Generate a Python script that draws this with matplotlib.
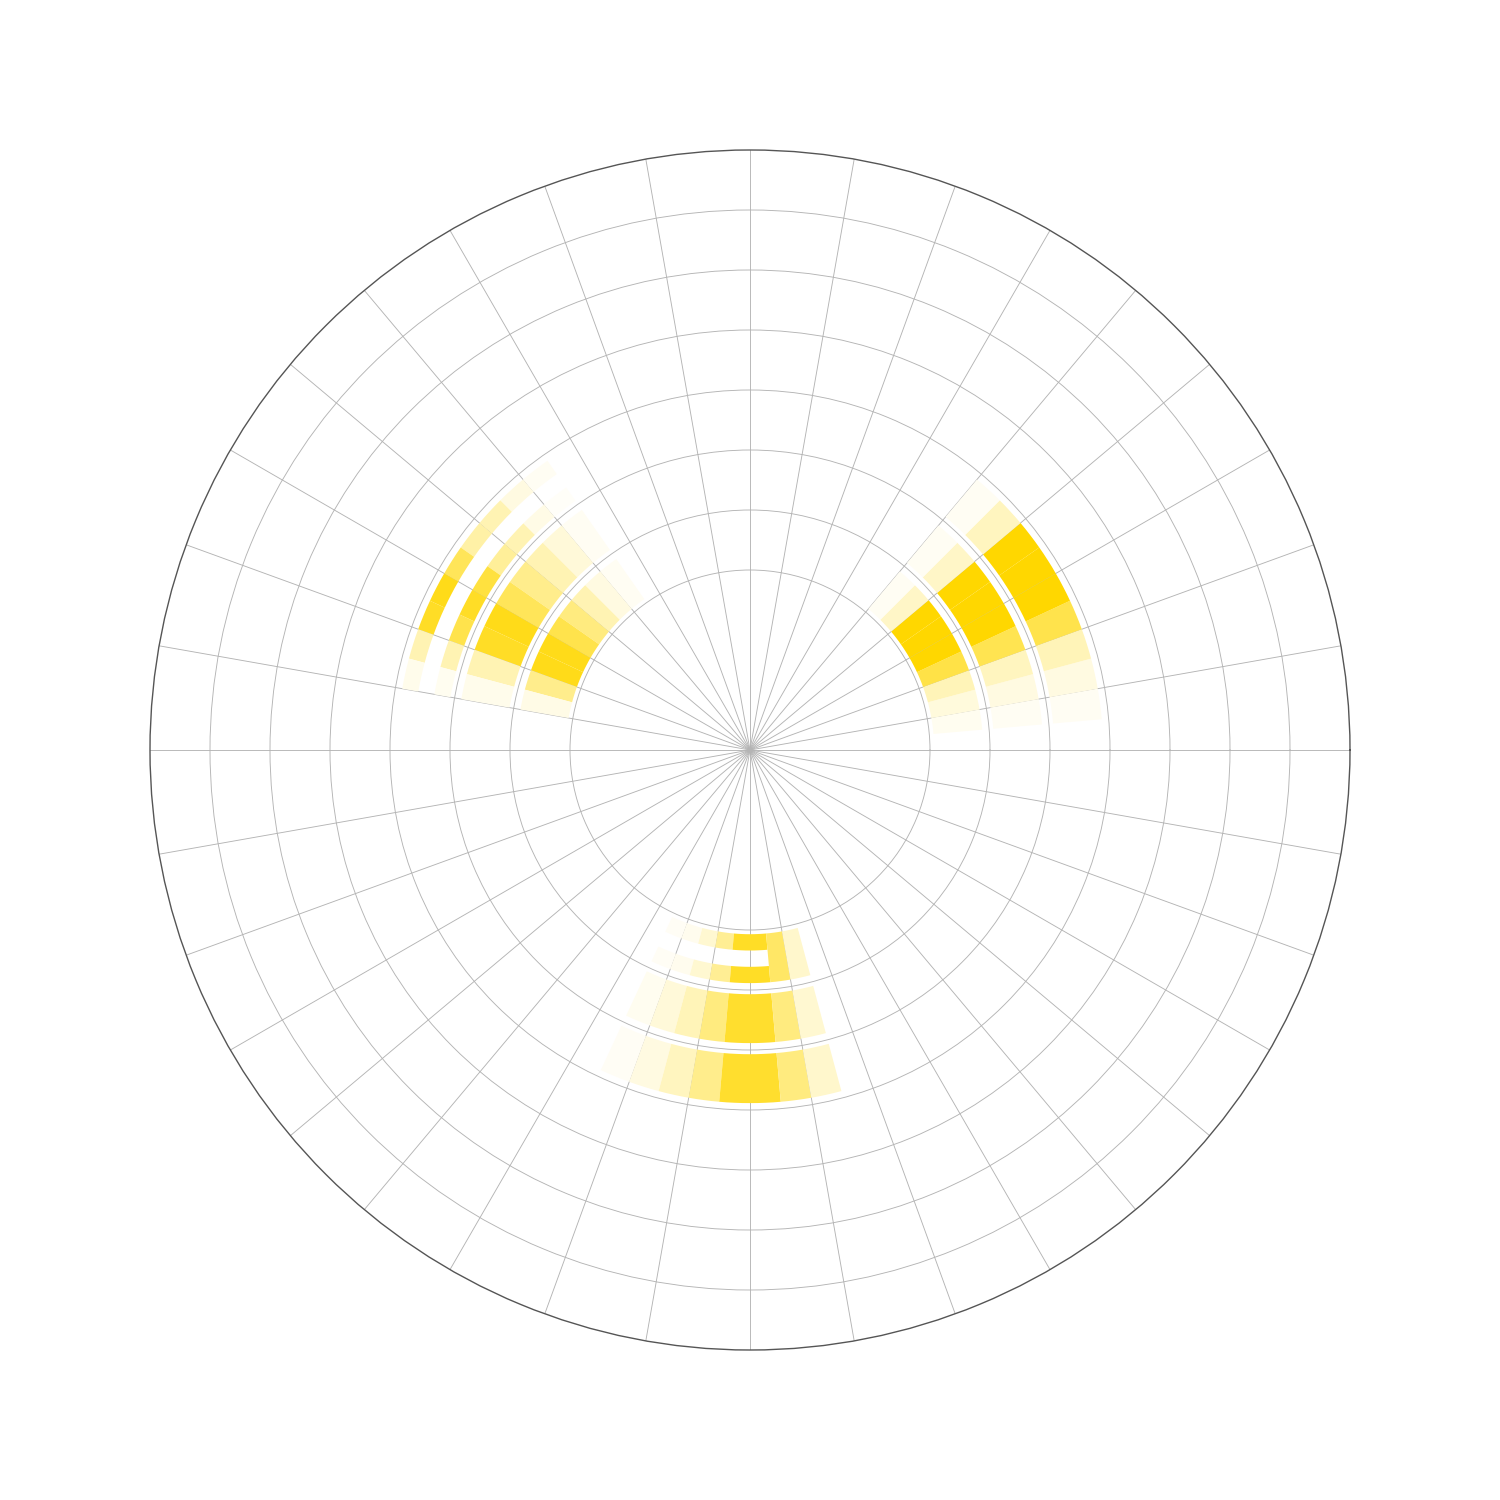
import numpy as np
import matplotlib
matplotlib.use("Agg")
from matplotlib import pyplot as plt
from matplotlib.colors import LinearSegmentedColormap

# left edges of the 5 degree angular bins of each group
right_theta = [5, 10, 15, 20, 25, 30, 35, 40, 45]
left_theta = [125, 130, 135, 140, 145, 150, 155, 160, 165]
bottom_theta = [245, 250, 255, 260, 265, 270, 275, 280]

# intensity 0..1, one row per radial band (band 0 is the innermost)
right_vals = [
    [0.06, 0.14, 0.28, 0.72, 1.0, 1.0, 1.0, 0.22, 0.05],
    [0.05, 0.12, 0.25, 0.68, 1.0, 1.0, 1.0, 0.22, 0.05],
    [0.05, 0.12, 0.28, 0.70, 1.0, 1.0, 1.0, 0.25, 0.05],
]
left_vals = [
    [0.05, 0.12, 0.30, 0.50, 0.70, 0.90, 0.90, 0.45, 0.10],
    [0.05, 0.15, 0.30, 0.45, 0.65, 0.90, 0.85, 0.30, 0.08],
    [0.03, 0.10, 0.30, 0.40, 0.75, 0.85, 0.70, 0.30, 0.06],
]
# outer sub-row of left band 2 differs from the inner one
left_band2_outer = [0.05, 0.12, 0.30, 0.35, 0.65, 0.90, 0.85, 0.30, 0.08]
left_band2_mid = [0, 0, 0, 0, 0, 0, 0, 0, 0]

bottom_vals = [
    [0.04, 0.07, 0.18, 0.42, 0.85, 0.85, 0.60, 0.20],
    [0.06, 0.15, 0.28, 0.50, 0.82, 0.82, 0.50, 0.18],
    [0.04, 0.12, 0.25, 0.45, 0.82, 0.82, 0.50, 0.20],
]
bottom_band0_mid = [0, 0, 0, 0, 0, 0, 0.60, 0.20]

BIN = 5
GAP_IN = 0.07
BAND_H = 0.815

cmap = LinearSegmentedColormap.from_list("gold", ["#ffffff", "#ffd700"])


def draw_cell(ax, t0, r0, h, v):
    if v <= 0:
        return
    ax.bar(np.deg2rad(t0 + BIN / 2), h, width=np.deg2rad(BIN), bottom=r0,
           color=cmap(v), edgecolor="none", linewidth=0, align="center", zorder=2)


def draw_group(ax, thetas, vals, mids=None, outers=None):
    mids = mids or {}
    outers = outers or {}
    for k, row in enumerate(vals):
        r0 = k + GAP_IN
        third = BAND_H / 3
        for j, t in enumerate(thetas):
            if k in mids or k in outers:
                mid = mids.get(k, row)[j]
                out = outers.get(k, row)[j]
                if row[j] == mid == out:
                    draw_cell(ax, t, r0, BAND_H, row[j])
                else:
                    draw_cell(ax, t, r0, third, row[j])
                    draw_cell(ax, t, r0 + third, third, mid)
                    draw_cell(ax, t, r0 + 2 * third, third, out)
            else:
                draw_cell(ax, t, r0, BAND_H, row[j])


fig = plt.figure(figsize=(15, 15), dpi=100)
ax = fig.add_axes([0.1, 0.1, 0.8, 0.8], projection="polar")

draw_group(ax, right_theta, right_vals)
draw_group(ax, left_theta, left_vals, mids={2: left_band2_mid}, outers={2: left_band2_outer})
draw_group(ax, bottom_theta, bottom_vals, mids={0: bottom_band0_mid})

ax.set_ylim(-3, 7)
ax.set_yticks(range(0, 7))
ax.set_xticks(np.deg2rad(np.arange(0, 360, 10)))
ax.set_xticklabels([])
ax.set_yticklabels([])
ax.tick_params(length=0)
ax.grid(True, color="#b4b4b4", linewidth=0.65)
for gl in ax.get_xgridlines() + ax.get_ygridlines():
    gl.set_zorder(3)
ax.spines["polar"].set_color("#555555")
ax.spines["polar"].set_linewidth(1.0)

fig.savefig("out.png", dpi=100, facecolor="white")
